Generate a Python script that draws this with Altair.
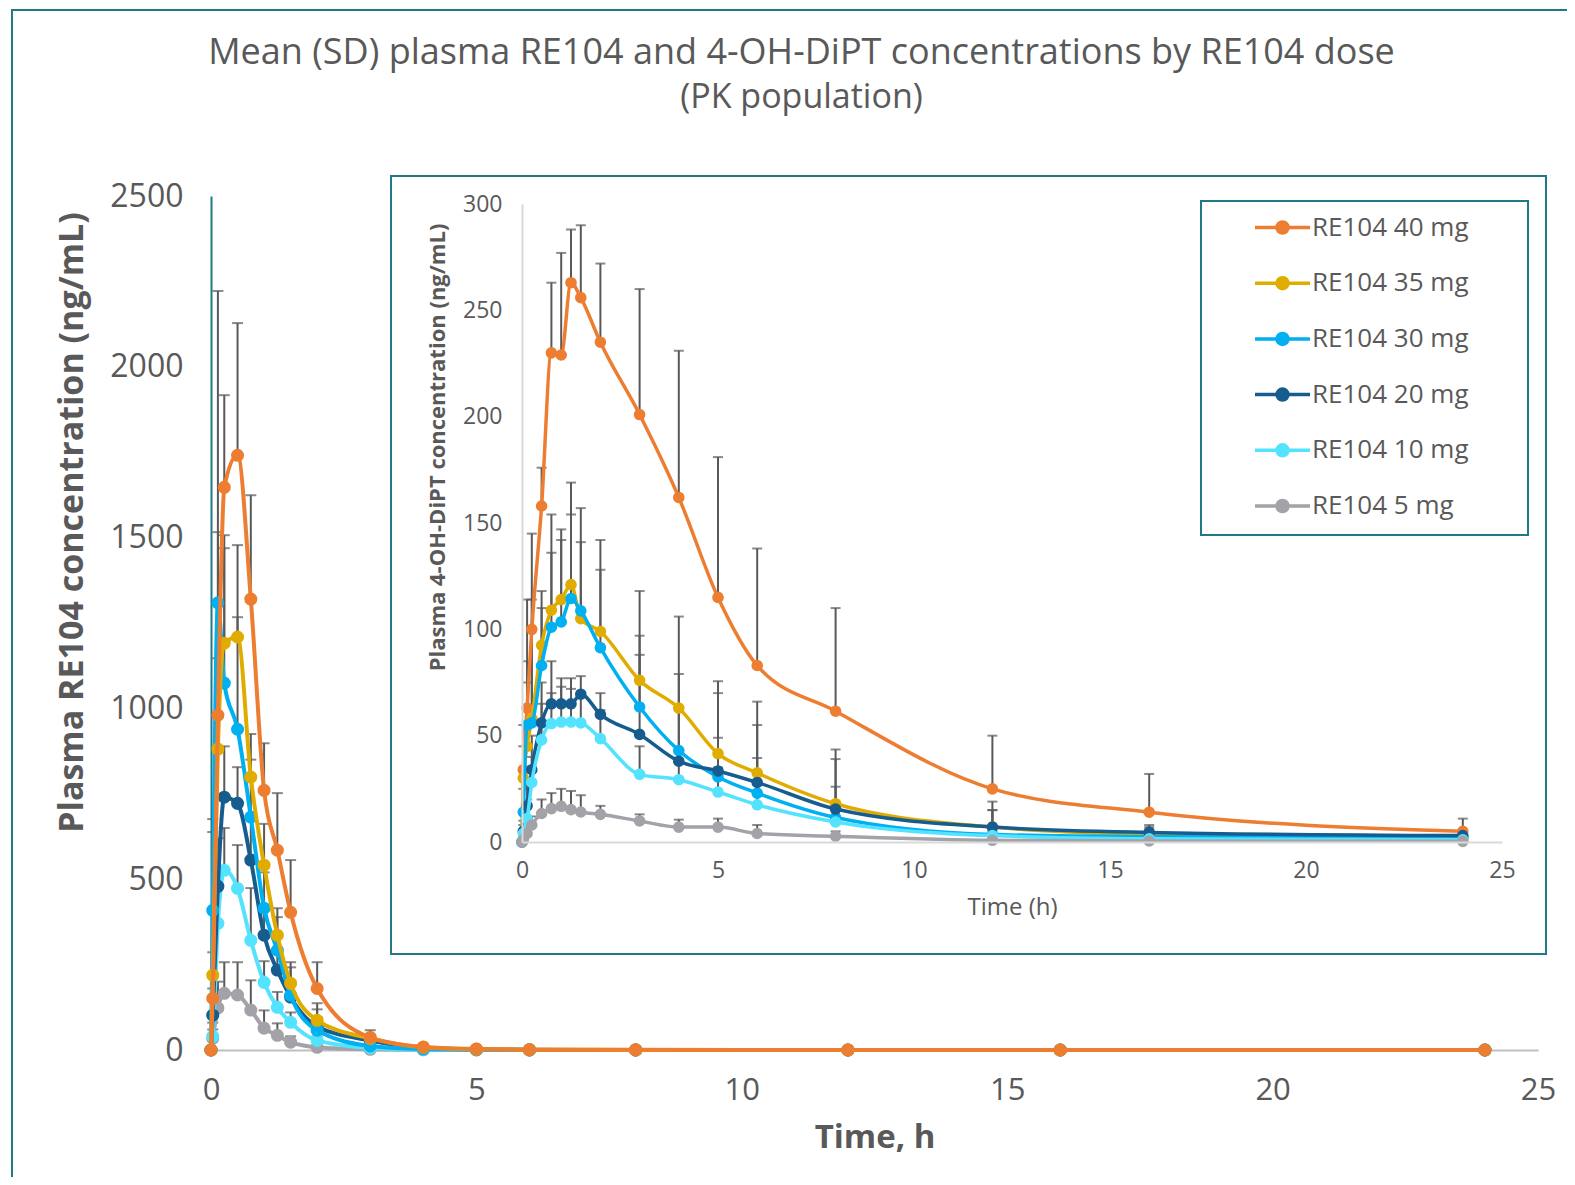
import altair as alt
import pandas as pd

# ---------------- data ----------------
times = [0, 0.033, 0.13, 0.25, 0.5, 0.75, 1, 1.25, 1.5, 2, 3, 4, 5, 6, 8, 12, 16, 24]
doses = ["RE104 40 mg", "RE104 35 mg", "RE104 30 mg", "RE104 20 mg", "RE104 10 mg", "RE104 5 mg"]
colors = ["#ED7D31", "#E1AC00", "#00B0F0", "#175C8F", "#54E3FF", "#A2A2A8"]

# RE104 plasma concentration (ng/mL): mean and mean+SD
re104_40 = [0, 151, 980, 1647, 1741, 1320, 760, 585, 403, 180, 37, 9, 3, 1, 0.5, 0.2, 0.1, 0]
re104_35 = [0, 219, 881, 1191, 1209, 799, 541, 336, 195, 87, 34, 8, 2, 1, 0.3, 0.1, 0, 0]
re104_30 = [0, 409, 1309, 1074, 939, 682, 415, 292, 160, 58, 12, 3, 1, 0.3, 0.1, 0, 0, 0]
re104_20 = [0, 102, 479, 740, 722, 556, 336, 234, 155, 69, 28, 6, 2, 0.5, 0.2, 0, 0, 0]
re104_10 = [0, 40, 371, 526, 473, 321, 198, 125, 81, 28, 6, 1.5, 0.5, 0, 0, 0, 0, 0]
re104_5 = [0, 34, 123, 166, 161, 117, 64, 43, 23, 8, 2, 0.5, 0, 0, 0, 0, 0, 0]

re104_40_sdtop = [0, 638, 2222, 1917, 2128, 1624, 898, 752, 556, 257, 58, 15, 5, 2, 1, 0.3, 0.2, 0]
re104_35_sdtop = [0, 286, 1147, 1507, 1478, 925, 662, 415, 257, 137, 45, 12, 3, 1.5, 0.5, 0.1, 0, 0]
re104_30_sdtop = [0, 676, 1516, 1469, 1267, 850, 520, 389, 242, 119, 20, 5, 1.5, 0.5, 0.2, 0, 0, 0]
re104_20_sdtop = [0, 180, 620, 889, 828, 676, 420, 290, 200, 95, 35, 9, 3, 1, 0.3, 0, 0, 0]
re104_10_sdtop = [0, 80, 500, 650, 600, 474, 260, 170, 110, 40, 9, 2, 1, 0, 0, 0, 0, 0]
re104_5_sdtop = [0, 60, 200, 257, 257, 204, 116, 78, 40, 14, 4, 1, 0, 0, 0, 0, 0, 0]

# 4-OH-DiPT plasma concentration (ng/mL): mean and mean+SD
oh_40 = [0, 34, 63, 100, 158, 230, 229, 263, 256, 235, 201, 162, 115, 83, 61.5, 25, 14, 5]
oh_35 = [0, 30, 45, 58, 92.5, 109, 114, 121, 105, 99, 76, 63, 41.6, 32.5, 18, 7, 3.5, 2]
oh_30 = [0, 14, 55, 56, 83, 101, 103.5, 114.5, 108.7, 91.4, 63.5, 43, 30.6, 23, 11.5, 3.5, 2.5, 2]
oh_20 = [0, 5, 17, 34, 56, 65, 65, 65, 69.5, 60, 50.6, 38, 33.4, 28, 15.5, 7, 4.5, 3]
oh_10 = [0, 4, 11, 28, 48, 55.7, 56.4, 56.4, 56, 48.6, 31.8, 29.3, 23.5, 17.5, 9.4, 3, 1.5, 1]
oh_5 = [0, 1, 4, 8, 13.4, 15.7, 16.8, 15.2, 14.1, 13, 9.9, 7, 7, 4, 2.7, 0.8, 0.5, 0.3]

oh_40_sdtop = [0, 55, 114, 145, 176, 263, 277, 288, 290, 272, 260, 231, 181, 138, 110, 50, 32, 11]
oh_35_sdtop = [0, 45, 75, 100, 110, 136, 147, 169, 157, 142, 118, 106, 75.6, 66, 43.5, 19, 8, 4]
oh_30_sdtop = [0, 25, 85, 114, 118, 154, 142, 154, 141, 128, 97, 79, 70, 55, 39, 15, 6, 4]
oh_20_sdtop = [0, 10, 30, 50, 75, 85, 77, 77, 78, 70, 88, 62, 49, 39.5, 26, 15, 7, 4.5]
oh_10_sdtop = [0, 8, 20, 40, 65, 70, 73, 72, 70, 62, 45, 42, 35, 27, 16, 5, 2.5, 1.5]
oh_5_sdtop = [0, 2, 6, 12, 20, 23, 25, 24, 22, 17, 13, 10.5, 11, 8, 5, 1.5, 1, 0.5]

re104_means = [re104_40, re104_35, re104_30, re104_20, re104_10, re104_5]
re104_tops = [re104_40_sdtop, re104_35_sdtop, re104_30_sdtop, re104_20_sdtop, re104_10_sdtop, re104_5_sdtop]
oh_means = [oh_40, oh_35, oh_30, oh_20, oh_10, oh_5]
oh_tops = [oh_40_sdtop, oh_35_sdtop, oh_30_sdtop, oh_20_sdtop, oh_10_sdtop, oh_5_sdtop]


def long_frame(means, tops):
    rows = []
    for dose, m, u in zip(doses, means, tops):
        for t, mv, uv in zip(times, m, u):
            rows.append({"time": t, "dose": dose, "mean": mv, "upper": uv})
    return pd.DataFrame(rows)


df_main = long_frame(re104_means, re104_tops)
df_inset = long_frame(oh_means, oh_tops)
df_main_err = df_main[df_main["upper"] > df_main["mean"]]
df_inset_err = df_inset[df_inset["upper"] > df_inset["mean"]]

# ---------------- style ----------------
FONT = "Open Sans"
TXT = "#595959"
TEAL = "#1F7A86"
ERR = "#595959"
W, H = 1327, 854

color_scale = alt.Scale(domain=doses, range=colors)

ring = lambda r: f"M{r},0A{r},{r} 0 1,1 -{r},0A{r},{r} 0 1,1 {r},0"
legend_symbol = "M-1,0L1,0" + "".join(ring(r) for r in [0.2, 0.14, 0.08, 0.03])

legend = alt.Legend(
    title=None, orient="none", legendX=1042, legendY=2, direction="vertical",
    symbolType=legend_symbol, symbolSize=3025, symbolStrokeWidth=3.5,
    labelFont=FONT, labelFontSize=26, labelColor=TXT, labelOffset=0,
    rowPadding=12.7, padding=0, symbolOffset=0,
)

main_x_axis = alt.Axis(
    title="Time, h", orient="bottom", values=[0, 5, 10, 15, 20, 25], grid=False, ticks=False,
    tickSize=0, domainColor="#BFBFBF", domainWidth=2, labelFont=FONT, labelFontSize=31,
    labelColor=TXT, labelPadding=25, labelFlush=False, titleFont=FONT, titleFontSize=33,
    titleFontWeight="bold", titleColor=TXT, titleY=87, titleBaseline="middle", format="d",
)
main_y_axis = alt.Axis(
    title="Plasma RE104 concentration (ng/mL)", orient="left",
    values=[0, 500, 1000, 1500, 2000, 2500], grid=False, ticks=False, tickSize=0,
    domainColor=TEAL, domainWidth=2, labelFont=FONT, labelFontSize=32, labelColor=TXT,
    labelPadding=28, titleFont=FONT, titleFontSize=34, titleFontWeight="bold",
    titleColor=TXT, titleX=-139, titleY=326, titleBaseline="middle", format="d",
)
inset_x_axis = alt.Axis(
    title="Time (h)", orient="bottom", offset=-208, values=[0, 5, 10, 15, 20, 25], grid=False,
    ticks=False, tickSize=0, domainColor="#D9D9D9", domainWidth=2, labelFont=FONT,
    labelFontSize=23, labelColor=TXT, labelPadding=17, labelFlush=False, titleFont=FONT,
    titleFontSize=24, titleFontWeight="normal", titleColor=TXT, titleY=65,
    titleBaseline="middle", format="d", zindex=1,
)
inset_y_axis = alt.Axis(
    title="Plasma 4-OH-DiPT concentration (ng/mL)", orient="left", offset=-311,
    values=[0, 50, 100, 150, 200, 250, 300], grid=False, ticks=False, tickSize=0,
    domainColor="#D9D9D9", domainWidth=2, labelFont=FONT, labelFontSize=23, labelColor=TXT,
    labelPadding=20, titleFont=FONT, titleFontSize=22, titleFontWeight="bold",
    titleColor=TXT, titleX=-85, titleY=251, titleBaseline="middle", format="d", zindex=1,
)

main_xs = alt.Scale(domain=[0, 25], nice=False, zero=False)
main_ys = alt.Scale(domain=[0, 2500], nice=False)
inset_xs = alt.Scale(domain=[0, 25], range=[311, 1291], nice=False, zero=False)
inset_ys = alt.Scale(domain=[0, 300], range=[646, 8], nice=False)


def mx():
    return alt.X("time:Q", scale=main_xs, axis=main_x_axis)


def my(field="mean"):
    return alt.Y(f"{field}:Q", scale=main_ys, axis=main_y_axis)


def ix():
    return alt.X("time:Q", scale=inset_xs, axis=inset_x_axis)


def iy(field="mean"):
    return alt.Y(f"{field}:Q", scale=inset_ys, axis=inset_y_axis)


one = alt.Data(values=[{"k": 1}])

# ---------------- main chart ----------------
border = alt.Chart(one).mark_rect(fill=None, stroke=TEAL, strokeWidth=2).encode(
    x=alt.value(-199), x2=alt.value(1450), y=alt.value(-186), y2=alt.value(1100)
)
main_layers = [border]
main_layers.append(
    alt.Chart(df_main_err).mark_rule(color=ERR, strokeWidth=2).encode(x=mx(), y=my(), y2=alt.Y2("upper:Q"))
)
main_layers.append(
    alt.Chart(df_main_err).mark_tick(orient="horizontal", color=ERR, thickness=2, size=11).encode(x=mx(), y=my("upper"))
)
first = True
for d in reversed(doses):
    base = alt.Chart(df_main).transform_filter(alt.datum.dose == d)
    main_layers.append(
        base.mark_line(strokeWidth=4, interpolate="monotone").encode(
            x=mx(), y=my(), color=alt.Color("dose:N", scale=color_scale, legend=legend if first else None)
        )
    )
    first = False
    main_layers.append(
        base.mark_circle(size=170, opacity=1).encode(
            x=mx(), y=my(), color=alt.Color("dose:N", scale=color_scale, legend=None)
        )
    )
main = alt.layer(*main_layers)

# ---------------- inset chart ----------------
inset_frame = alt.Chart(one).mark_rect(fill="white", stroke=TEAL, strokeWidth=2).encode(
    x=alt.value(180), x2=alt.value(1335), y=alt.value(-20), y2=alt.value(758)
)
legend_frame = alt.Chart(one).mark_rect(fill="white", stroke=TEAL, strokeWidth=2).encode(
    x=alt.value(990), x2=alt.value(1317), y=alt.value(5), y2=alt.value(339)
)
inset_layers = [inset_frame, legend_frame]
inset_layers.append(
    alt.Chart(df_inset_err).mark_rule(color=ERR, strokeWidth=2).encode(x=ix(), y=iy(), y2=alt.Y2("upper:Q"))
)
inset_layers.append(
    alt.Chart(df_inset_err).mark_tick(orient="horizontal", color=ERR, thickness=2, size=10).encode(x=ix(), y=iy("upper"))
)
for d in doses:
    base = alt.Chart(df_inset).transform_filter(alt.datum.dose == d)
    inset_layers.append(
        base.mark_line(strokeWidth=3.5, interpolate="monotone").encode(
            x=ix(), y=iy(), color=alt.Color("dose:N", scale=color_scale, legend=None)
        )
    )
    inset_layers.append(
        base.mark_circle(size=135, opacity=1).encode(
            x=ix(), y=iy(), color=alt.Color("dose:N", scale=color_scale, legend=None)
        )
    )
inset = alt.layer(*inset_layers)

chart = (
    alt.layer(main, inset)
    .resolve_scale(x="independent", y="independent")
    .resolve_axis(x="independent", y="independent")
    .properties(
        width=W,
        height=H,
        autosize=alt.AutoSizeParams(type="none"),
        padding={"left": 203, "top": 188, "right": 29, "bottom": 127},
        background="white",
        title=alt.TitleParams(
            text="Mean (SD) plasma RE104 and 4-OH-DiPT concentrations by RE104 dose",
            subtitle="(PK population)",
            font=FONT, fontSize=36, fontWeight="normal", color=TXT,
            subtitleFont=FONT, subtitleFontSize=34, subtitleColor=TXT, subtitlePadding=9,
            anchor="middle", dx=-73, offset=-107,
        ),
    )
    .configure_view(stroke=None)
)

chart.save("out.html", embed_options={"renderer": "svg", "actions": False})
